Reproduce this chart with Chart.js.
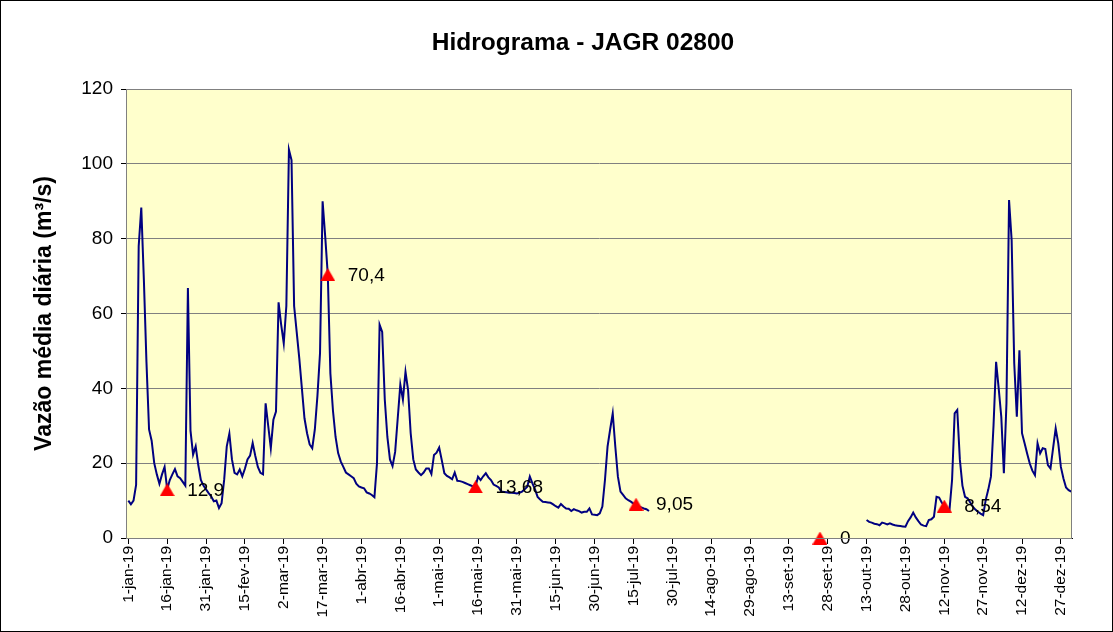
<!DOCTYPE html>
<html>
<head>
<meta charset="utf-8">
<script src="https://cdn.jsdelivr.net/npm/chart.js@4.4.1/dist/chart.umd.min.js"></script>
<style>
  html,body{margin:0;padding:0;background:#fff;}
  #wrap{width:1113px;height:632px;}
</style>
</head>
<body>
<div id="wrap"><canvas id="hidro" width="1113" height="632"></canvas></div>
<script>
// Hidrograma JAGR 02800 - vazao media diaria 2019 (m3/s), um valor por dia
const jan=[10,9,10,14.2,78,88.3,69,47,29,26,20,17,14.5,17,19,13,15.5,17,18.4,16.5,16,15,14,66.8,28.7,22.3,24.5,19.5,15.5,14,13];
const fev=[12,11.1,9.8,10,8,9.3,15.6,24.5,27.9,21,17.4,17,18.3,16.5,18.5,21,22,25.4,22,19,17.4,17,36,30,24,31.6,33.8,63];
const mar=[57,52,62,103.8,101,62,55,48,40,32,28,25,24,29,38,49.4,90,80.6,70.4,44,34,27,22.7,20.5,19,17.5,17,16.5,16,14.5,13.8];
const abr=[13.5,13.3,12.2,11.9,11.5,10.9,20,57,55.1,37,27,21,19.2,23,32,41,37,44.4,39.5,28,21,18.3,17.5,16.8,17.5,18.6,18.6,17.1,22.2,22.8];
const mai=[24.2,20.8,17.3,16.6,16.2,15.7,17.5,15.3,15.2,15,14.7,14.4,14.1,13.8,13.68,16.4,15.5,16.5,17.3,16.2,15.5,14.3,13.9,13.5,12.4,12.3,12.2,12.1,12.1,12,11.9];
const jun=[12.1,12.4,13,13.7,16.4,14.6,13,11,10.3,9.7,9.6,9.5,9.4,9,8.5,8.1,9.1,8.4,7.9,7.8,7.2,7.7,7.4,7.2,6.8,7,7,7.9,6.3,6.2];
const jul=[6.1,6.6,8.4,15.5,24.4,29,33.3,24.4,16.4,12.4,11.5,10.6,10.1,9.7,9.2,8.6,8.4,8.2,7.9,7.7,7.2,null,null,null,null,null,null,null,null,null,null];
const ago=Array(31).fill(null); // sem dados
const set=Array(30).fill(null); // sem dados
const out=[null,null,null,null,null,null,null,null,null,null,null,null,4.8,4.3,4.1,3.8,3.7,3.4,4.1,3.9,3.6,3.9,3.6,3.4,3.3,3.2,3.1,3,4.5,5.5,6.8];
const nov=[5.5,4.5,3.6,3.3,3.2,4.8,5,5.7,11,10.8,9.5,8.5,7.8,7.5,15.5,33.3,34.2,21,14,11,10.6,9.5,8.4,7.6,7,6.5,6.1,10.2,13,16.4];
const dez=[30,47.1,40,32.4,17.3,36,90.3,79.6,46.7,32.4,50.2,28,25.3,22.5,19.9,18,16.8,25.3,22.6,24,23.8,19.5,18.6,24,29.3,25.3,19,15.9,13.5,12.8,12.4];

// pontos destacados (dia do ano, valor)
const marcoDias=[15,77,134,196,267,315];
const marcoValores=[12.9,70.4,13.68,9.05,0,8.54];

// rotulos do eixo x, a cada 15 dias
const rotulos=['1-jan-19','16-jan-19','31-jan-19','15-fev-19','2-mar-19','17-mar-19','1-abr-19','16-abr-19','1-mai-19','16-mai-19','31-mai-19','15-jun-19','30-jun-19','15-jul-19','30-jul-19','14-ago-19','29-ago-19','13-set-19','28-set-19','13-out-19','28-out-19','12-nov-19','27-nov-19','12-dez-19','27-dez-19'];
const passoRotulo=15;
const yTicks=[0,20,40,60,80,100,120];

const vazao=[].concat(jan,fev,mar,abr,mai,jun,jul,ago,set,out,nov,dez);
const serie=vazao.map((v,i)=>({x:i,y:v}));
const marcos=marcoDias.map((d,i)=>({x:d,y:marcoValores[i]}));
const fmt=v=>String(v).replace('.',',');
const FONT='"Liberation Sans", Arial, sans-serif';

// triangulo vermelho centrado pela caixa (como no Excel)
const tri=document.createElement('canvas'); tri.width=15; tri.height=13;
(function(){const g=tri.getContext('2d'); g.fillStyle='#FF0000'; g.beginPath(); g.moveTo(7.5,0); g.lineTo(15,13); g.lineTo(0,13); g.closePath(); g.fill();})();

const fundo={
  id:'fundo',
  beforeDraw(c){const {ctx,chartArea:a}=c; ctx.save(); ctx.fillStyle='#FFFFCC'; ctx.fillRect(a.left,a.top,a.right-a.left,a.bottom-a.top); ctx.restore();},
  afterDraw(c){const {ctx,chartArea:a}=c; ctx.save(); ctx.strokeStyle='#808080'; ctx.lineWidth=1;
    ctx.strokeRect(a.left+0.5,a.top+0.5,a.right-a.left-1,a.bottom-a.top);
    ctx.strokeStyle='#000'; ctx.strokeRect(0.5,0.5,c.width-1,c.height-1);
    ctx.fillStyle='#000'; ctx.font='bold 24.5px '+FONT; ctx.textAlign='center'; ctx.textBaseline='middle';
    ctx.fillText('Hidrograma - JAGR 02800',583,43); ctx.restore();}
};
const rotuloMarcos={
  id:'rotuloMarcos',
  afterDatasetsDraw(c){const {ctx}=c; const meta=c.getDatasetMeta(1); ctx.save();
    ctx.font='19px '+FONT; ctx.fillStyle='#000'; ctx.textAlign='left'; ctx.textBaseline='middle';
    meta.data.forEach((p,i)=>ctx.fillText(fmt(marcoValores[i]),p.x+20,p.y+1)); ctx.restore();}
};

new Chart(document.getElementById('hidro'),{
  type:'line',
  data:{datasets:[
    {label:'Vazão',data:serie,order:1,borderColor:'#000080',borderWidth:2,pointRadius:0,tension:0,spanGaps:false},
    {label:'Marcos',data:marcos,order:0,showLine:false,pointStyle:tri,pointRadius:8,pointHoverRadius:8,clip:false}
  ]},
  options:{
    responsive:false,animation:false,
    layout:{padding:{top:89,left:0,right:41,bottom:0}},
    plugins:{legend:{display:false},tooltip:{enabled:false},title:{display:false}},
    scales:{
      x:{type:'linear',min:-0.9,max:364.3,
        afterBuildTicks:s=>{s.ticks=rotulos.map((_,i)=>({value:i*passoRotulo}));},
        afterFit:s=>{s.height=94;},
        ticks:{autoSkip:false,minRotation:90,maxRotation:90,padding:2,color:'#000',font:{family:FONT,size:15.5},
          callback:(v,i)=>rotulos[i]},
        grid:{drawOnChartArea:false,drawTicks:true,tickLength:6,color:'#000'},
        border:{color:'#000'}
      },
      y:{min:0,max:120,
        afterBuildTicks:s=>{s.ticks=yTicks.map(v=>({value:v}));},
        afterFit:s=>{s.width=126;},
        ticks:{padding:8,color:'#000',font:{family:FONT,size:19}},
        grid:{color:'#808080',tickColor:'#000',tickLength:5},
        border:{color:'#000'},
        title:{display:true,text:'Vazão média diária (m³/s)',color:'#000',font:{family:FONT,size:23,weight:'bold'},padding:{top:31,bottom:0}}
      }
    }
  },
  plugins:[fundo,rotuloMarcos]
});
</script>
</body>
</html>
